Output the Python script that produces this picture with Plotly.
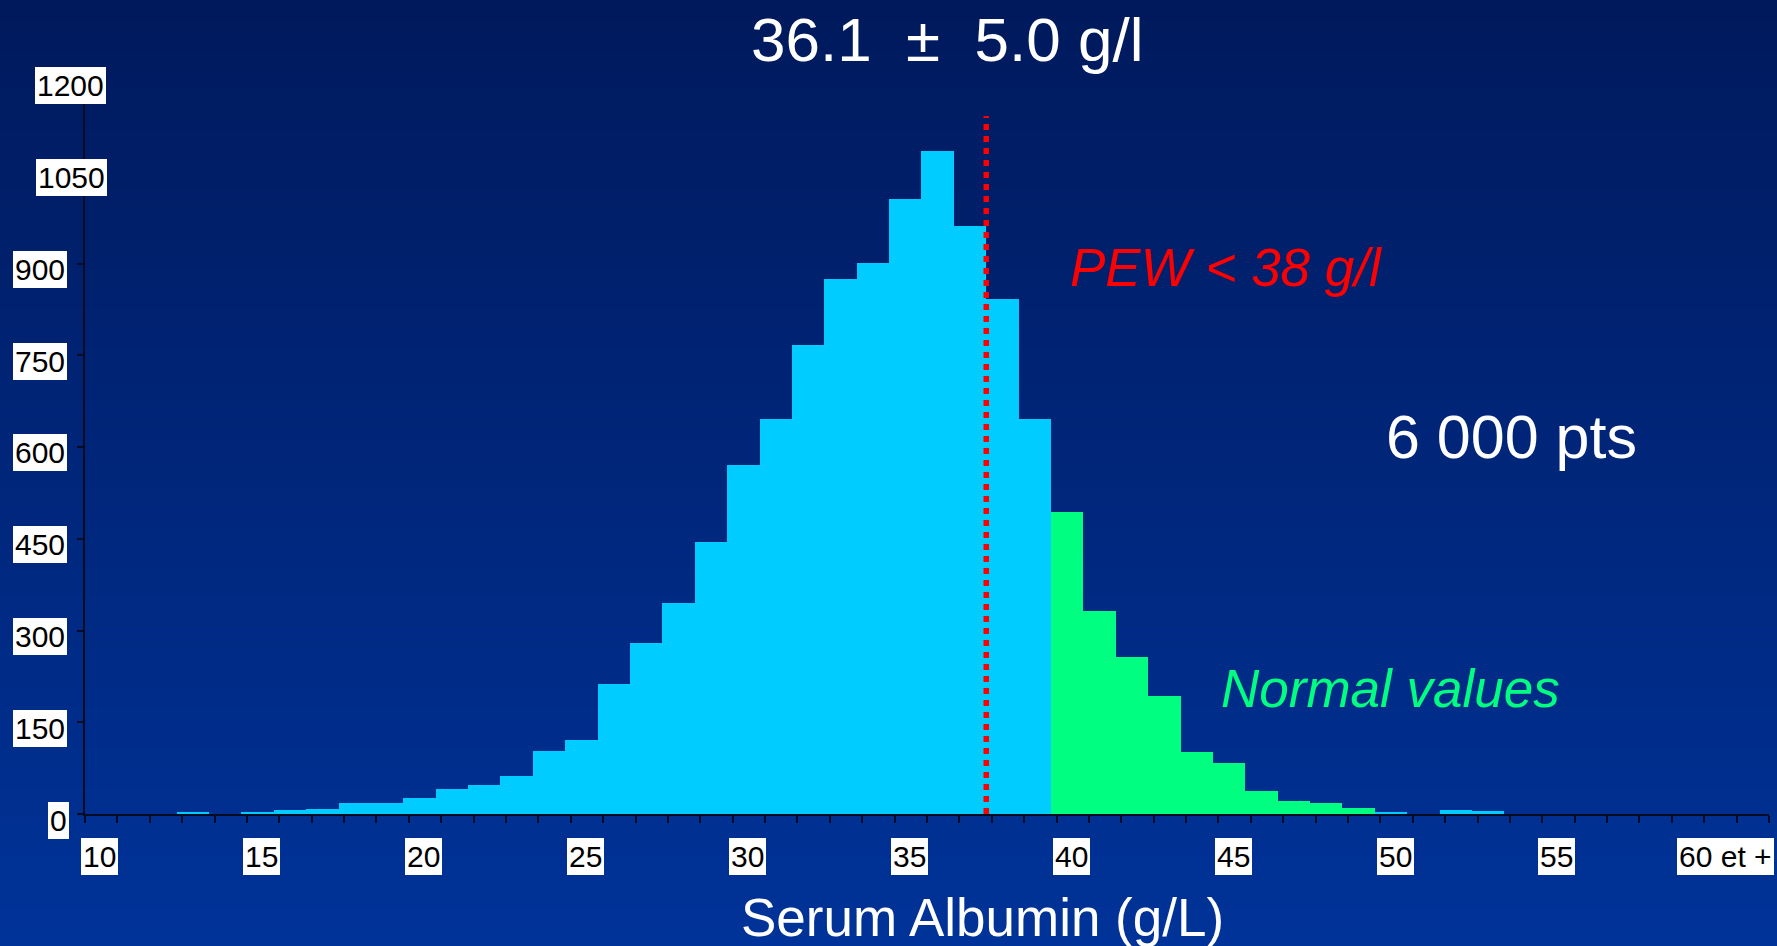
import plotly.graph_objects as go

# ---------------- data ----------------
categories = list(range(10, 62))  # Serum albumin bins (g/L), last labelled "60 et +"
counts = [
    0, 0, 0, 2, 0, 3, 6, 8, 18, 18,          # 10-19
    26, 41, 47, 62, 103, 121, 212, 280, 345, 445,   # 20-29
    571, 645, 766, 875, 901, 1005, 1084, 962, 842, 645,  # 30-39
    494, 332, 257, 193, 101, 83, 38, 21, 18, 10,   # 40-49
    2, 0, 6, 5, 0, 0, 0, 0, 0, 0,            # 50-59
    0, 0,                                    # 60-61
]
normal_range = (40, 49)
pew_cutoff = 37.5          # boundary before the 38 g/l bin
pew_line_top = 1141

x_tick_values = [10, 15, 20, 25, 30, 35, 40, 45, 50, 55, 60]
x_tick_labels = ["10", "15", "20", "25", "30", "35", "40", "45", "50", "55", "60 et +"]
y_tick_values = [0, 150, 300, 450, 600, 750, 900, 1050, 1200]
y_tick_labels = ["0", "150", "300", "450", "600", "750", "900", "1050", "1200"]

title_text = "36.1\u00a0\u00a0±\u00a0\u00a05.0 g/l"
pew_text = "PEW < 38 g/l"
pts_text = "6 000 pts"
normal_text = "Normal values"
x_title = "Serum Albumin (g/L)"

# ---------------- style ----------------
W, H = 1777, 946
CYAN = "#00CCFF"
GREEN = "#00FF80"
AXIS = "#060b24"
FONT = "Arial, Liberation Sans, sans-serif"


def fx(p):
    return p / W


def fy(p):
    return 1 - p / H


bar_colors = [GREEN if normal_range[0] <= c <= normal_range[1] else CYAN for c in categories]

fig = go.Figure()
fig.add_trace(go.Bar(
    x=categories, y=counts, width=1,
    marker=dict(color=bar_colors, line=dict(width=0)),
    hoverinfo="skip",
))

# background gradient
shapes = []
top = (0, 25, 92)
bot = (0, 51, 153)
n = 95
for i in range(n):
    t = (i + 0.5) / n
    c = tuple(round(top[k] + (bot[k] - top[k]) * t) for k in range(3))
    shapes.append(dict(
        type="rect", xref="paper", yref="paper", layer="below",
        x0=0, x1=1, y0=1 - (i + 1.05) / n, y1=1 - i / n,
        fillcolor=f"rgb({c[0]},{c[1]},{c[2]})", line=dict(width=0),
    ))

# PEW cutoff dotted line
shapes.append(dict(
    type="line", xref="x", yref="y", layer="above",
    x0=pew_cutoff, x1=pew_cutoff, y0=0, y1=pew_line_top,
    line=dict(color="#FF0000", width=5.5, dash="6px,6px"),
))

annotations = []
# y tick labels with white boxes
y_label_right = {"0": 69, "1050": 107, "1200": 106}
for v, lab in zip(y_tick_values, y_tick_labels):
    annotations.append(dict(
        x=fx(y_label_right.get(lab, 67)), xref="paper", xanchor="right",
        y=v, yref="y", yanchor="middle", yshift=-6,
        text=lab, showarrow=False, bgcolor="white", bordercolor="white",
        borderpad=1, font=dict(family=FONT, size=30, color="black"),
    ))
# x tick labels with white boxes
for v, lab in zip(x_tick_values, x_tick_labels):
    annotations.append(dict(
        x=v, xref="x", xanchor="center", xshift=11 if lab == "60 et +" else 4,
        y=fy(856), yref="paper", yanchor="middle",
        text=lab, showarrow=False, bgcolor="white", bordercolor="white",
        borderpad=1, font=dict(family=FONT, size=30, color="black"),
    ))

annotations += [
    dict(x=fx(947), y=fy(39), xref="paper", yref="paper", xanchor="center", yanchor="middle",
         text=title_text, showarrow=False, font=dict(family=FONT, size=62, color="white")),
    dict(x=fx(1226), y=fy(267), xref="paper", yref="paper", xanchor="center", yanchor="middle",
         text=f"<i>{pew_text}</i>", showarrow=False, font=dict(family=FONT, size=53, color="#FF0000")),
    dict(x=fx(1511), y=fy(437), xref="paper", yref="paper", xanchor="center", yanchor="middle",
         text=pts_text, showarrow=False, font=dict(family=FONT, size=61, color="white")),
    dict(x=fx(1390), y=fy(688), xref="paper", yref="paper", xanchor="center", yanchor="middle",
         text=f"<i>{normal_text}</i>", showarrow=False, font=dict(family=FONT, size=53, color=GREEN)),
    dict(x=fx(982), y=fy(917), xref="paper", yref="paper", xanchor="center", yanchor="middle",
         text=x_title, showarrow=False, font=dict(family=FONT, size=53, color="white")),
]

fig.update_layout(
    width=W, height=H,
    margin=dict(l=0, r=0, t=0, b=0, pad=0),
    paper_bgcolor="#00266f",
    plot_bgcolor="rgba(0,0,0,0)",
    showlegend=False,
    bargap=0,
    shapes=shapes,
    annotations=annotations,
    xaxis=dict(
        domain=[fx(85), fx(1769)], range=[9.67, 61.67],
        showgrid=False, zeroline=False, showline=True, linecolor=AXIS, linewidth=2,
        ticks="outside", tickmode="linear", tick0=9.67, dtick=1,
        ticklen=7, tickwidth=1.5, tickcolor=AXIS, showticklabels=False, fixedrange=True,
    ),
    yaxis=dict(
        domain=[1 - 814 / H, 1 - 80 / H], range=[0, 1200],
        showgrid=False, zeroline=False, showline=True, linecolor=AXIS, linewidth=1.5,
        ticks="outside", tickmode="array", tickvals=y_tick_values,
        ticklen=6, tickwidth=1.5, tickcolor=AXIS, showticklabels=False, fixedrange=True,
    ),
)

fig.write_html("out.html")
